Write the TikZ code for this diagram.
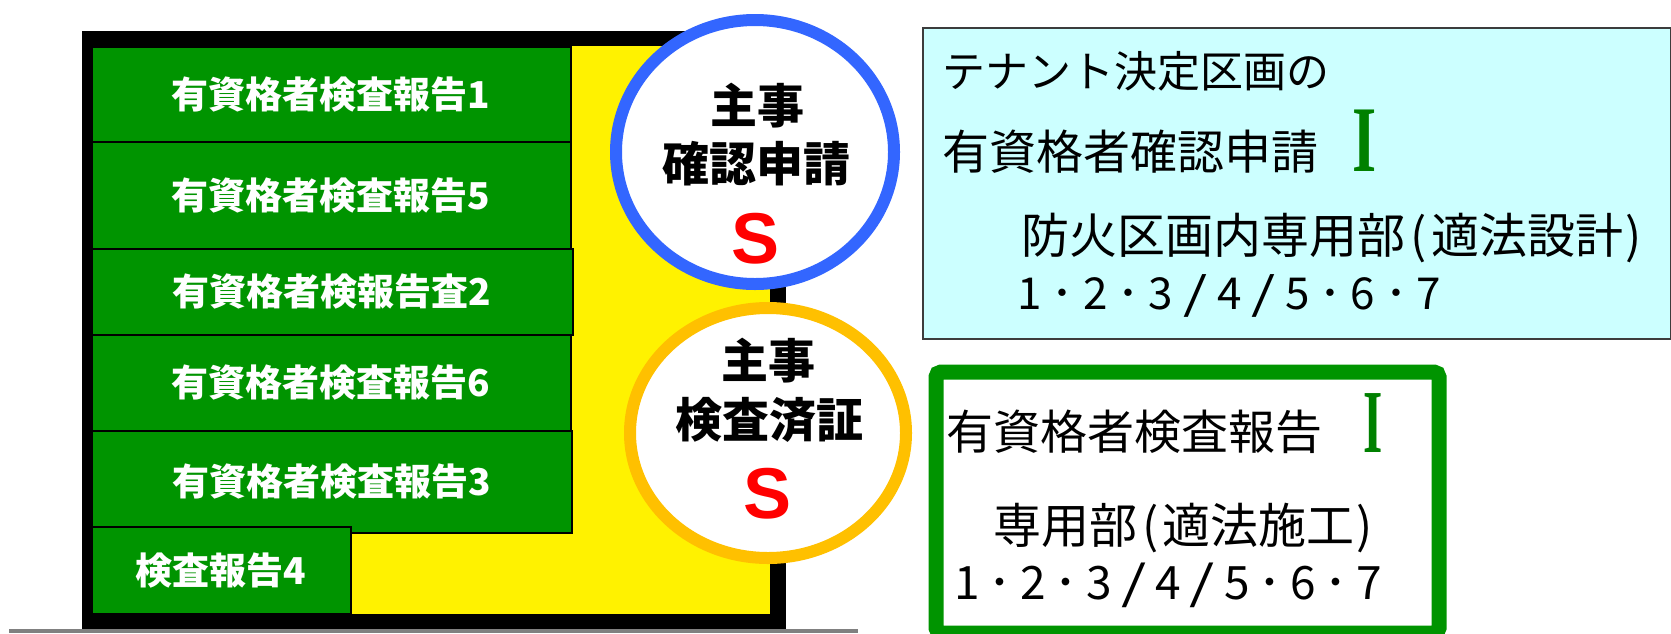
\documentclass[tikz,border=0pt]{standalone}
\usepackage{fontspec}
\usepackage{graphicx}
\newfontfamily\jp{Noto Sans CJK JP}
\newfontfamily\lsans{Liberation Sans}
\newfontfamily\lserif{Liberation Serif}
\usetikzlibrary{shapes.geometric}
\definecolor{gfill}{RGB}{0,148,0}
\definecolor{cblue}{RGB}{51,102,255}
\definecolor{corange}{RGB}{255,192,0}
\definecolor{ccyan}{RGB}{204,255,255}
\definecolor{gline}{RGB}{128,128,128}
\definecolor{ired}{RGB}{255,0,0}
\definecolor{igreen}{RGB}{0,128,0}
\definecolor{bord}{RGB}{60,60,60}
\newcommand\fsz[1]{\fontsize{#1}{#1}\selectfont}
\newcommand\sla{\scalebox{1.4}[1]{/}}
\newcommand\nums{1\hfill･\hfill2\hfill･\hfill3\hfill\sla\hfill4\hfill\sla\hfill5\hfill･\hfill6\hfill･\hfill7}
\begin{document}
\begin{tikzpicture}[x=1pt,y=-1pt,
  gbox/.style={draw=black, line width=1.5pt, fill=gfill, anchor=north west, inner sep=0pt, text=white, font=\jp\bfseries\fsz{37}},
  ring/.style={ellipse, fill=white, line width=12pt, inner sep=0pt},
  ctext/.style={font=\jp\bfseries\fsz{47}, inner sep=0pt},
  stext/.style={font=\lsans\bfseries\fsz{72}, text=ired, inner sep=0pt},
  itext/.style={font=\lserif\bfseries\fsz{94}, text=igreen, inner sep=0pt},
  btext/.style={font=\jp\fsz{47}, inner sep=0pt, anchor=west},
  plain/.style={anchor=north west, inner sep=0pt},
]
\useasboundingbox (0,0) rectangle (1671,633);
% base line and frame
\node[plain, fill=gline, minimum width=849pt, minimum height=4pt] (ground) at (9,629) {};
\node[plain, fill=black, minimum width=704pt, minimum height=598pt] (frame) at (82,31) {};
\node[plain, fill=yellow, minimum width=679pt, minimum height=568pt] (yard) at (91,46) {};
% green boxes
\node[gbox, minimum width=479pt, minimum height=95pt] (b1) at (91,46) {有資格者検査報告1};
\node[gbox, minimum width=479pt, minimum height=107pt] (b2) at (91,141) {有資格者検査報告5};
\node[gbox, minimum width=481pt, minimum height=86pt] (b3) at (91,248) {有資格者検報告査2};
\node[gbox, minimum width=479pt, minimum height=96pt] (b4) at (91,334) {有資格者検査報告6};
\node[gbox, minimum width=480pt, minimum height=102pt] (b5) at (91,430) {有資格者検査報告3};
\node[gbox, minimum width=259pt, minimum height=87pt] (b6) at (91,526) {検査報告4};
% circles
\node[ring, draw=cblue, minimum width=278pt, minimum height=264pt] (c1) at (755,152) {};
\node[ring, draw=corange, minimum width=276pt, minimum height=250pt] (c2) at (768,433) {};
\node[ctext] (c1a) at (757,106) {主事};
\node[ctext] (c1b) at (756,164) {確認申請};
\node[stext] (c1s) at (756,239) {S};
\node[ctext] (c2a) at (768,361) {主事};
\node[ctext] (c2b) at (769,420) {検査済証};
\node[stext] (c2s) at (768,494) {S};
% cyan box
\node[plain, draw=bord, line width=1.5pt, fill=ccyan, minimum width=748pt, minimum height=311pt] (cyanbox) at (922,27) {};
\node[btext, font=\jp\fsz{43}] (t1) at (942,71) {テナント決定区画の};
\node[btext] (t2) at (942,152) {有資格者確認申請};
\node[itext] (t2i) at (1365,141) {\scalebox{0.66}[1]{I}};
\node[btext, font=\jp\fsz{48}] (t3) at (1021,238) {防火区画内専用部\hspace{5pt}(\hspace{5pt}適法設計\hspace{2pt})};
\node[btext, font=\jp\fsz{44}] (t4) at (1017,296) {\makebox[424pt][l]{\nums}};
% green framed box
\node[plain, draw=gfill, line width=15pt, rounded corners=5pt, fill=white, minimum width=503pt, minimum height=261pt] (gframe) at (928.5,364.5) {};
\node[btext] (g1) at (946,432) {有資格者検査報告};
\node[itext, font=\lserif\bfseries\fsz{90}] (g1i) at (1373,423) {\scalebox{0.55}[1]{I}};
\node[btext, font=\jp\fsz{48}] (g2) at (993,528) {専用部\hspace{5pt}(\hspace{4pt}適法施工\hspace{2pt})};
\node[btext, font=\jp\fsz{46}] (g3) at (954,585) {\makebox[428pt][l]{\nums}};
\end{tikzpicture}
\end{document}
